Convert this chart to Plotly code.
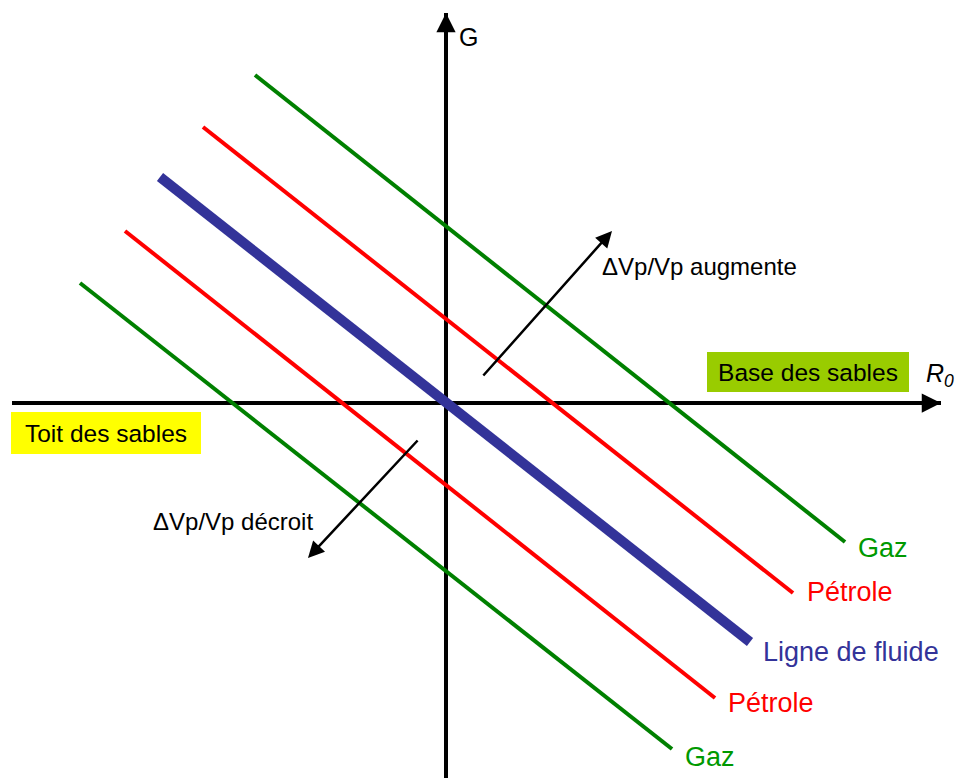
import plotly.graph_objects as go

# Data coordinates: R0 (horizontal) and G (vertical), origin where the axes cross
line_names = ["Gaz", "Pétrole", "Ligne de fluide", "Pétrole", "Gaz"]
line_x_start = [-1.91, -2.43, -2.86, -3.21, -3.66]
line_y_start = [3.28, 2.76, 2.26, 1.72, 1.20]
line_x_end = [3.99, 3.47, 3.04, 2.69, 2.26]
line_y_end = [-1.39, -1.90, -2.39, -2.95, -3.46]
line_colors = ["#008000", "#ff0000", "#333399", "#ff0000", "#008000"]
label_colors = ["#009900", "#ff0000", "#333399", "#ff0000", "#009900"]
line_widths = [4, 4, 10, 4, 4]
label_x = [4.10, 3.59, 3.15, 2.80, 2.37]
label_y = [-1.45, -1.89, -2.49, -3.00, -3.54]

# Axes extents
x_axis_x = [-4.34, 4.95]
x_axis_y = [0, 0]
y_axis_x = [0, 0]
y_axis_y = [-3.80, 3.90]

# Direction arrows (tail -> head)
arrow_tail_x = [0.36, -0.27]
arrow_tail_y = [0.26, -0.36]
arrow_head_x = [1.66, -1.38]
arrow_head_y = [1.72, -1.55]
arrow_texts = ["ΔVp/Vp augmente", "ΔVp/Vp décroit"]
arrow_text_x = [1.54, -2.95]
arrow_text_y = [1.37, -1.18]

FONT = "Liberation Sans, Arial, sans-serif"

fig = go.Figure()

# Axes lines (drawn beneath the fluid lines)
fig.add_trace(go.Scatter(
    x=x_axis_x, y=x_axis_y, mode="lines",
    line=dict(color="black", width=4), hoverinfo="skip", showlegend=False))
fig.add_trace(go.Scatter(
    x=y_axis_x, y=y_axis_y, mode="lines",
    line=dict(color="black", width=4), hoverinfo="skip", showlegend=False))
# Arrowheads at the axis ends
fig.add_annotation(x=x_axis_x[1], y=0, ax=x_axis_x[1] - 0.3, ay=0,
                   xref="x", yref="y", axref="x", ayref="y", text="",
                   showarrow=True, arrowhead=2, arrowsize=1.1, arrowwidth=3.5,
                   arrowcolor="black", standoff=0)
fig.add_annotation(x=0, y=y_axis_y[1], ax=0, ay=y_axis_y[1] - 0.3,
                   xref="x", yref="y", axref="x", ayref="y", text="",
                   showarrow=True, arrowhead=2, arrowsize=1.1, arrowwidth=3.5,
                   arrowcolor="black", standoff=0)

# Fluid lines
for i in range(len(line_names)):
    fig.add_trace(go.Scatter(
        x=[line_x_start[i], line_x_end[i]], y=[line_y_start[i], line_y_end[i]],
        mode="lines", line=dict(color=line_colors[i], width=line_widths[i]),
        hoverinfo="skip", showlegend=False))
    fig.add_annotation(x=label_x[i], y=label_y[i], text=line_names[i],
                       showarrow=False, xanchor="left", yanchor="middle",
                       font=dict(family=FONT, size=27, color=label_colors[i]))

# Direction arrows and their labels
for i in range(2):
    fig.add_annotation(x=arrow_head_x[i], y=arrow_head_y[i],
                       ax=arrow_tail_x[i], ay=arrow_tail_y[i],
                       xref="x", yref="y", axref="x", ayref="y",
                       text="", showarrow=True, arrowhead=2, arrowsize=1.3,
                       arrowwidth=2.5, arrowcolor="black", standoff=0)
    fig.add_annotation(x=arrow_text_x[i], y=arrow_text_y[i], text=arrow_texts[i],
                       showarrow=False, xanchor="left", yanchor="middle",
                       font=dict(family=FONT, size=24, color="black"))

# Axis labels
fig.add_annotation(x=0.22, y=3.66, text="G", showarrow=False,
                   xanchor="center", yanchor="middle",
                   font=dict(family=FONT, size=25, color="black"))
fig.add_annotation(x=4.94, y=0.28, text="<i>R<sub>0</sub></i>", showarrow=False,
                   xanchor="center", yanchor="middle",
                   font=dict(family=FONT, size=25, color="black"))

# Boxed labels
fig.add_annotation(x=3.62, y=0.31, text="Base des sables", showarrow=False,
                   xanchor="center", yanchor="middle", width=202, height=40,
                   bgcolor="#99cc00", borderpad=0, borderwidth=0,
                   font=dict(family=FONT, size=24.5, color="black"))
fig.add_annotation(x=-3.40, y=-0.30, text="Toit des sables", showarrow=False,
                   xanchor="center", yanchor="middle", width=190, height=42,
                   bgcolor="#ffff00", borderpad=0, borderwidth=0,
                   font=dict(family=FONT, size=24.5, color="black"))

fig.update_layout(
    width=958, height=778,
    margin=dict(l=0, r=0, t=0, b=0),
    paper_bgcolor="white", plot_bgcolor="white",
    xaxis=dict(range=[-4.46, 5.12], visible=False, fixedrange=True),
    yaxis=dict(range=[-3.75, 4.03], visible=False, fixedrange=True),
    showlegend=False,
)

fig.write_html("out.html", config={"displayModeBar": False},
               post_script="document.body.style.margin='0';")
